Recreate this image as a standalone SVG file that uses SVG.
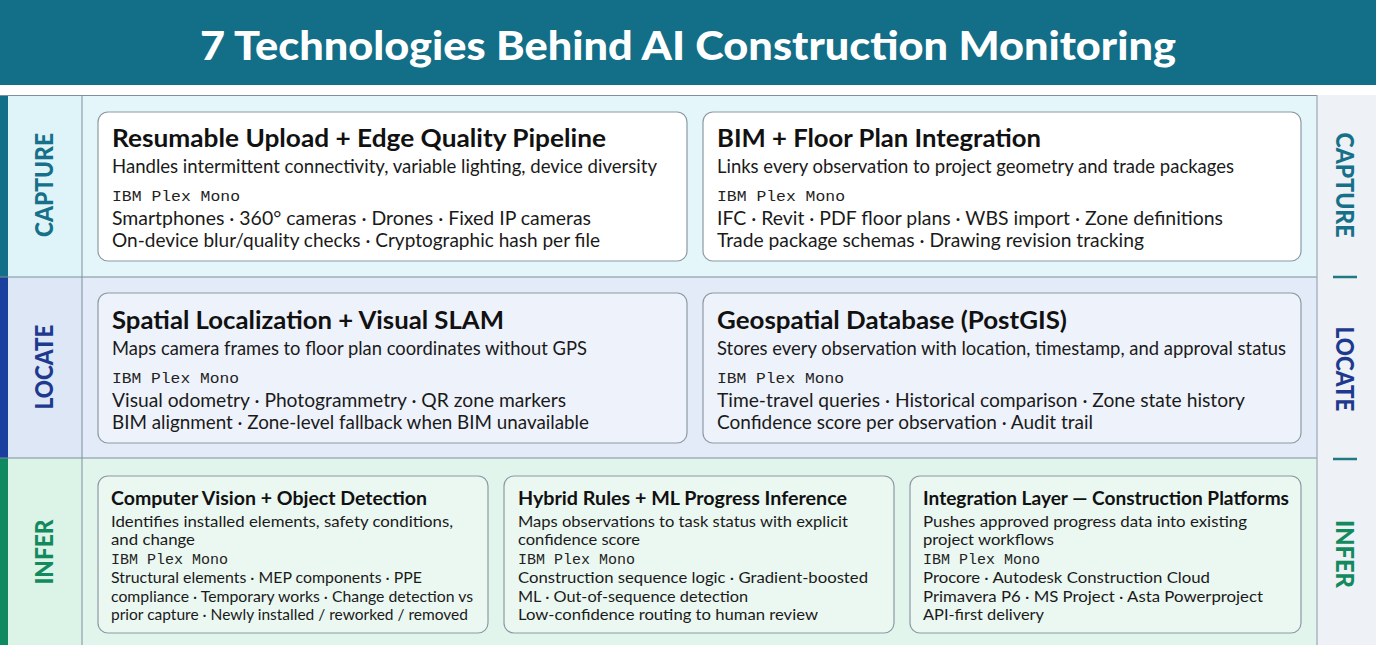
<svg xmlns="http://www.w3.org/2000/svg" width="1376" height="645" viewBox="0 0 1376 645">
<defs>
<style>
.ttl{font-family:Lato,"Noto Sans",sans-serif;font-weight:700;fill:#111;}
.t1{font-size:24px;}
.t3{font-size:18.5px;}
.bd{font-family:Lato,"Noto Sans",sans-serif;fill:#1a1a1a;}
.b1{font-size:19px;}
.b3{font-size:15px;}
.mono{font-family:"Liberation Mono","DejaVu Sans Mono",monospace;fill:#222;}
.m1{font-size:15.5px;}
.m3{font-size:14px;}
.lab{font-family:Lato,"Noto Sans",sans-serif;font-weight:900;font-size:25px;text-anchor:middle;}
.card{stroke:#8c9aa4;stroke-width:1.2;}
.c-cap{fill:#ffffff;}
.c-loc{fill:#eef2fb;}
.c-inf{fill:#ebf7f1;}
.sep{stroke:#7d909e;stroke-width:1;}
</style>
</defs>
<rect x="0" y="0" width="1376" height="645" fill="#ffffff"/>
<g id="header">
<rect x="0" y="0" width="1376" height="85" fill="#136e87"/>
<text x="688" y="60" text-anchor="middle" font-family="Lato,'Noto Sans',sans-serif" font-weight="900" font-size="40" fill="#ffffff" textLength="976" lengthAdjust="spacingAndGlyphs">7 Technologies Behind AI Construction Monitoring</text>
</g>
<g id="bands">
<rect x="0" y="95" width="1317" height="182" fill="#e4f6fa"/>
<rect x="0" y="277" width="1317" height="181" fill="#e3ebf8"/>
<rect x="0" y="458" width="1317" height="187" fill="#e2f5ec"/>
<rect x="8" y="95" width="74" height="182" fill="#dff4f8"/>
<rect x="8" y="277" width="74" height="181" fill="#dde7f6"/>
<rect x="8" y="458" width="74" height="187" fill="#dcf3e7"/>
<rect x="0" y="95" width="8" height="182" fill="#136f88"/>
<rect x="0" y="277" width="8" height="181" fill="#1b3f9f"/>
<rect x="0" y="458" width="8" height="187" fill="#0f8a60"/>
<rect x="1317" y="95" width="59" height="550" fill="#eef1f5"/>
<line class="sep" x1="0" y1="95.5" x2="1317" y2="95.5"/>
<line class="sep" x1="0" y1="277" x2="1317" y2="277"/>
<line class="sep" x1="0" y1="458" x2="1317" y2="458"/>
<line class="sep" x1="82" y1="95" x2="82" y2="645"/>
<line x1="1317" y1="95" x2="1317" y2="645" stroke="#9aa8b2" stroke-width="1.2"/>
</g>
<g id="stage-labels">
<text class="lab" fill="#17708a" transform="translate(44,185) rotate(-90)" y="9" textLength="104" lengthAdjust="spacingAndGlyphs">CAPTURE</text>
<text class="lab" fill="#1e3a8f" transform="translate(44,367) rotate(-90)" y="9" textLength="85" lengthAdjust="spacingAndGlyphs">LOCATE</text>
<text class="lab" fill="#138a5e" transform="translate(44,552) rotate(-90)" y="9" textLength="65" lengthAdjust="spacingAndGlyphs">INFER</text>
<text class="lab" fill="#17708a" transform="translate(1345,185) rotate(90)" y="9" textLength="105" lengthAdjust="spacingAndGlyphs">CAPTURE</text>
<line x1="1333" y1="277" x2="1357" y2="277" stroke="#1d7a80" stroke-width="2.5"/>
<text class="lab" fill="#1e3a8f" transform="translate(1345,369) rotate(90)" y="9" textLength="85" lengthAdjust="spacingAndGlyphs">LOCATE</text>
<line x1="1333" y1="459" x2="1357" y2="459" stroke="#1d7a80" stroke-width="2.5"/>
<text class="lab" fill="#138a5e" transform="translate(1345,554) rotate(90)" y="9" textLength="68" lengthAdjust="spacingAndGlyphs">INFER</text>
</g>
<g id="connectors"/>
<g id="card-upload">
<rect class="card c-cap" x="98" y="112" width="589" height="149" rx="10"/>
<text class="ttl t1" x="112" y="147" textLength="494" lengthAdjust="spacingAndGlyphs">Resumable Upload + Edge Quality Pipeline</text>
<text class="bd b1" x="112" y="173" textLength="545" lengthAdjust="spacingAndGlyphs">Handles intermittent connectivity, variable lighting, device diversity</text>
<text class="mono m1" x="112" y="201" textLength="128" lengthAdjust="spacingAndGlyphs">IBM Plex Mono</text>
<text class="bd b1" x="112" y="225" textLength="479" lengthAdjust="spacingAndGlyphs">Smartphones · 360° cameras · Drones · Fixed IP cameras</text>
<text class="bd b1" x="112" y="247" textLength="488" lengthAdjust="spacingAndGlyphs">On-device blur/quality checks · Cryptographic hash per file</text>
</g>
<g id="card-bim">
<rect class="card c-cap" x="703" y="112" width="598" height="149" rx="10"/>
<text class="ttl t1" x="717" y="147" textLength="324" lengthAdjust="spacingAndGlyphs">BIM + Floor Plan Integration</text>
<text class="bd b1" x="717" y="173" textLength="517" lengthAdjust="spacingAndGlyphs">Links every observation to project geometry and trade packages</text>
<text class="mono m1" x="717" y="201" textLength="128" lengthAdjust="spacingAndGlyphs">IBM Plex Mono</text>
<text class="bd b1" x="717" y="225" textLength="506" lengthAdjust="spacingAndGlyphs">IFC · Revit · PDF floor plans · WBS import · Zone definitions</text>
<text class="bd b1" x="717" y="247" textLength="427" lengthAdjust="spacingAndGlyphs">Trade package schemas · Drawing revision tracking</text>
</g>
<g id="card-slam">
<rect class="card c-loc" x="98" y="293" width="589" height="150" rx="10"/>
<text class="ttl t1" x="112" y="329" textLength="392" lengthAdjust="spacingAndGlyphs">Spatial Localization + Visual SLAM</text>
<text class="bd b1" x="112" y="355" textLength="475" lengthAdjust="spacingAndGlyphs">Maps camera frames to floor plan coordinates without GPS</text>
<text class="mono m1" x="112" y="383" textLength="127" lengthAdjust="spacingAndGlyphs">IBM Plex Mono</text>
<text class="bd b1" x="112" y="407" textLength="454" lengthAdjust="spacingAndGlyphs">Visual odometry · Photogrammetry · QR zone markers</text>
<text class="bd b1" x="112" y="429" textLength="477" lengthAdjust="spacingAndGlyphs">BIM alignment · Zone-level fallback when BIM unavailable</text>
</g>
<g id="card-postgis">
<rect class="card c-loc" x="703" y="293" width="598" height="150" rx="10"/>
<text class="ttl t1" x="717" y="329" textLength="350" lengthAdjust="spacingAndGlyphs">Geospatial Database (PostGIS)</text>
<text class="bd b1" x="717" y="355" textLength="569" lengthAdjust="spacingAndGlyphs">Stores every observation with location, timestamp, and approval status</text>
<text class="mono m1" x="717" y="383" textLength="127" lengthAdjust="spacingAndGlyphs">IBM Plex Mono</text>
<text class="bd b1" x="717" y="407" textLength="528" lengthAdjust="spacingAndGlyphs">Time-travel queries · Historical comparison · Zone state history</text>
<text class="bd b1" x="717" y="429" textLength="376" lengthAdjust="spacingAndGlyphs">Confidence score per observation · Audit trail</text>
</g>
<g id="card-cv">
<rect class="card c-inf" x="98" y="476" width="390" height="157" rx="10"/>
<text class="ttl t3" x="111" y="505" textLength="316" lengthAdjust="spacingAndGlyphs">Computer Vision + Object Detection</text>
<text class="bd b3" x="111" y="527" textLength="342" lengthAdjust="spacingAndGlyphs">Identifies installed elements, safety conditions,</text>
<text class="bd b3" x="111" y="545" textLength="84" lengthAdjust="spacingAndGlyphs">and change</text>
<text class="mono m3" x="111" y="564" textLength="117" lengthAdjust="spacingAndGlyphs">IBM Plex Mono</text>
<text class="bd b3" x="111" y="583" textLength="311" lengthAdjust="spacingAndGlyphs">Structural elements · MEP components · PPE</text>
<text class="bd b3" x="111" y="602" textLength="362" lengthAdjust="spacingAndGlyphs">compliance · Temporary works · Change detection vs</text>
<text class="bd b3" x="111" y="620" textLength="357" lengthAdjust="spacingAndGlyphs">prior capture · Newly installed / reworked / removed</text>
</g>
<g id="card-ml">
<rect class="card c-inf" x="504" y="476" width="390" height="157" rx="10"/>
<text class="ttl t3" x="518" y="505" textLength="329" lengthAdjust="spacingAndGlyphs">Hybrid Rules + ML Progress Inference</text>
<text class="bd b3" x="518" y="527" textLength="330" lengthAdjust="spacingAndGlyphs">Maps observations to task status with explicit</text>
<text class="bd b3" x="518" y="545" textLength="122" lengthAdjust="spacingAndGlyphs">confidence score</text>
<text class="mono m3" x="518" y="564" textLength="117" lengthAdjust="spacingAndGlyphs">IBM Plex Mono</text>
<text class="bd b3" x="518" y="583" textLength="350" lengthAdjust="spacingAndGlyphs">Construction sequence logic · Gradient-boosted</text>
<text class="bd b3" x="518" y="602" textLength="230" lengthAdjust="spacingAndGlyphs">ML · Out-of-sequence detection</text>
<text class="bd b3" x="518" y="620" textLength="300" lengthAdjust="spacingAndGlyphs">Low-confidence routing to human review</text>
</g>
<g id="card-integration">
<rect class="card c-inf" x="910" y="476" width="391" height="157" rx="10"/>
<text class="ttl t3" x="923" y="505" textLength="366" lengthAdjust="spacingAndGlyphs">Integration Layer — Construction Platforms</text>
<text class="bd b3" x="923" y="527" textLength="324" lengthAdjust="spacingAndGlyphs">Pushes approved progress data into existing</text>
<text class="bd b3" x="923" y="545" textLength="131" lengthAdjust="spacingAndGlyphs">project workflows</text>
<text class="mono m3" x="923" y="564" textLength="117" lengthAdjust="spacingAndGlyphs">IBM Plex Mono</text>
<text class="bd b3" x="923" y="583" textLength="287" lengthAdjust="spacingAndGlyphs">Procore · Autodesk Construction Cloud</text>
<text class="bd b3" x="923" y="602" textLength="340" lengthAdjust="spacingAndGlyphs">Primavera P6 · MS Project · Asta Powerproject</text>
<text class="bd b3" x="923" y="620" textLength="121" lengthAdjust="spacingAndGlyphs">API-first delivery</text>
</g>
</svg>
